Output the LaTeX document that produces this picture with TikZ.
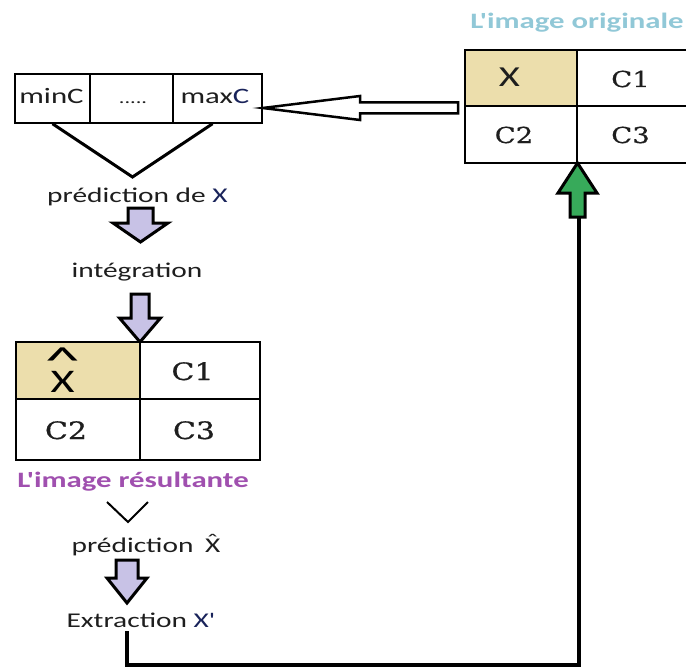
\documentclass[tikz,border=0pt]{standalone}
\usepackage{fontspec}
\setmainfont[FakeStretch=1.4, Ligatures=TeXOff]{Carlito}
\newfontfamily\cellfont[FakeStretch=1.25, FakeBold=0.6]{DejaVu Serif}
\definecolor{cellTan}{RGB}{236,222,172}
\definecolor{lav}{RGB}{200,194,230}
\definecolor{grn}{RGB}{55,170,90}
\definecolor{purp}{RGB}{160,80,175}
\definecolor{skyb}{RGB}{145,200,215}
\definecolor{ink}{RGB}{30,30,30}
\definecolor{navy}{RGB}{25,35,90}
\newcommand{\fs}[1]{\fontsize{#1}{#1}\selectfont}
\newcommand{\hatX}{\accent"02C6 X}
\newcommand{\bighatX}{\ooalign{\hfil\raisebox{0.56em}{\scalebox{1.55}[1.15]{\char"5E}}\hfil\cr\hfil X\hfil\cr}}
% cx, start, headbase, tip, shaft half width, head half width, fill
\newcommand{\blkarr}[7]{%
  \draw[blkarrow, fill=#7] ({#1-#5},#2) -- ({#1+#5},#2) -- ({#1+#5},#3) -- ({#1+#6},#3) -- (#1,#4) -- ({#1-#6},#3) -- ({#1-#5},#3) -- cycle;}
\begin{document}
\begin{tikzpicture}[x=1pt,y=-1pt,
  txt/.style={text=ink, inner sep=0pt, anchor=base, font=\fs{21}},
  celltxt/.style={text=ink, inner sep=0pt, anchor=base, font=\cellfont\fs{22}},
  box/.style={draw=black, line width=1.5pt, inner sep=0pt},
  blkarrow/.style={draw=black, line width=3pt, line join=miter},
  vline/.style={draw=black, line width=3pt},
  fbline/.style={draw=black, line width=3.5pt, line join=miter}]
\useasboundingbox (0,0) rectangle (686,669);
\clip (0,0) rectangle (686,669);

% ---------- top-left strip ----------
\node[box, minimum width=75, minimum height=49] (sMin) at (52.5,98.5) {};
\node[box, minimum width=83, minimum height=49] (sDots) at (131.5,98.5) {};
\node[box, minimum width=89, minimum height=49] (sMax) at (217.5,98.5) {};
\node[txt, font=\fs{22}] (tMin) at (51.5,103) {minC};
\node[txt, font=\fs{16}] (tDots) at (133,103) {.....};
\node[txt, font=\fs{22}] (tMax) at (215,103) {max\textcolor{navy}{C}};

% ---------- original image table ----------
\node[txt, font=\fs{22}\bfseries, text=skyb] (tOrig) at (577,29) {L'image originale};
\node[box, fill=cellTan, minimum width=112, minimum height=56] (oX) at (521,78) {};
\node[box, minimum width=115, minimum height=56] (oC1) at (634.5,78) {};
\node[box, minimum width=112, minimum height=57] (oC2) at (521,134.5) {};
\node[box, minimum width=115, minimum height=57] (oC3) at (634.5,134.5) {};
\node[txt, font=\fs{29}] (oXt) at (509.5,87) {X};
\node[celltxt] (oC1t) at (630.5,87) {C1};
\node[celltxt] (oC2t) at (514,143) {C2};
\node[celltxt] (oC3t) at (630.5,143) {C3};

% hollow arrow from original table to strip
\draw[draw=black, fill=white, line width=2.5pt, line join=miter]
  ([yshift=-9.5pt]sMax.east) -- (360,96) -- (360,102.5) -- (458,102.5)
  -- (458,113.5) -- (360,113.5) -- (360,120) -- cycle;

% ---------- prediction ----------
\coordinate (apex1) at (132.5,177);
\draw[vline] (sMin.south) -- (apex1) -- ([xshift=-5pt]sMax.south);
\node[txt] (pred1) at (137.5,202) {prédiction de \textcolor{navy}{X}};
\blkarr{140.5}{208}{223}{242}{12.5}{27.5}{lav}
\node[txt] (integ) at (137,277) {intégration};
\blkarr{140}{294}{318}{342}{9}{20.5}{lav}

% ---------- resulting image table ----------
\node[box, fill=cellTan, minimum width=124, minimum height=57] (rX) at (78,370.5) {};
\node[box, minimum width=120, minimum height=57] (rC1) at (200,370.5) {};
\node[box, minimum width=124, minimum height=61] (rC2) at (78,429.5) {};
\node[box, minimum width=120, minimum height=61] (rC3) at (200,429.5) {};
\node[txt, font=\fs{33}, text=black] (rXt) at (62.5,392) {\bighatX};
\node[celltxt, font=\cellfont\fs{24}] (rC1t) at (192.5,380) {C1};
\node[celltxt, font=\cellfont\fs{24}] (rC2t) at (66,439) {C2};
\node[celltxt, font=\cellfont\fs{24}] (rC3t) at (194,439) {C3};
\node[txt, font=\fs{22}\bfseries, text=purp] (tRes) at (133,487) {L'image résultante};

% ---------- second prediction / extraction ----------
\coordinate (vL) at (107,502);
\coordinate (apex2) at (128,522);
\coordinate (vR) at (148,502);
\draw[draw=black, line width=2pt] (vL) -- (apex2) -- (vR);
\node[txt] (pred2) at (146,552) {prédiction\hspace{0.55em}\hatX};
\blkarr{127}{560}{578}{603}{11}{20}{lav}
\node[txt] (extr) at (141,627) {Extraction \textcolor{navy}{X'}};

% ---------- feedback line and green arrow ----------
\coordinate (fb0) at (127,631);
\coordinate (fb1) at (579,217);
\draw[fbline] (fb0) -- (127,665) -- (579,665) -- (fb1);
\blkarr{577.5}{217}{193}{163}{7.5}{19.5}{grn}
\end{tikzpicture}
\end{document}
